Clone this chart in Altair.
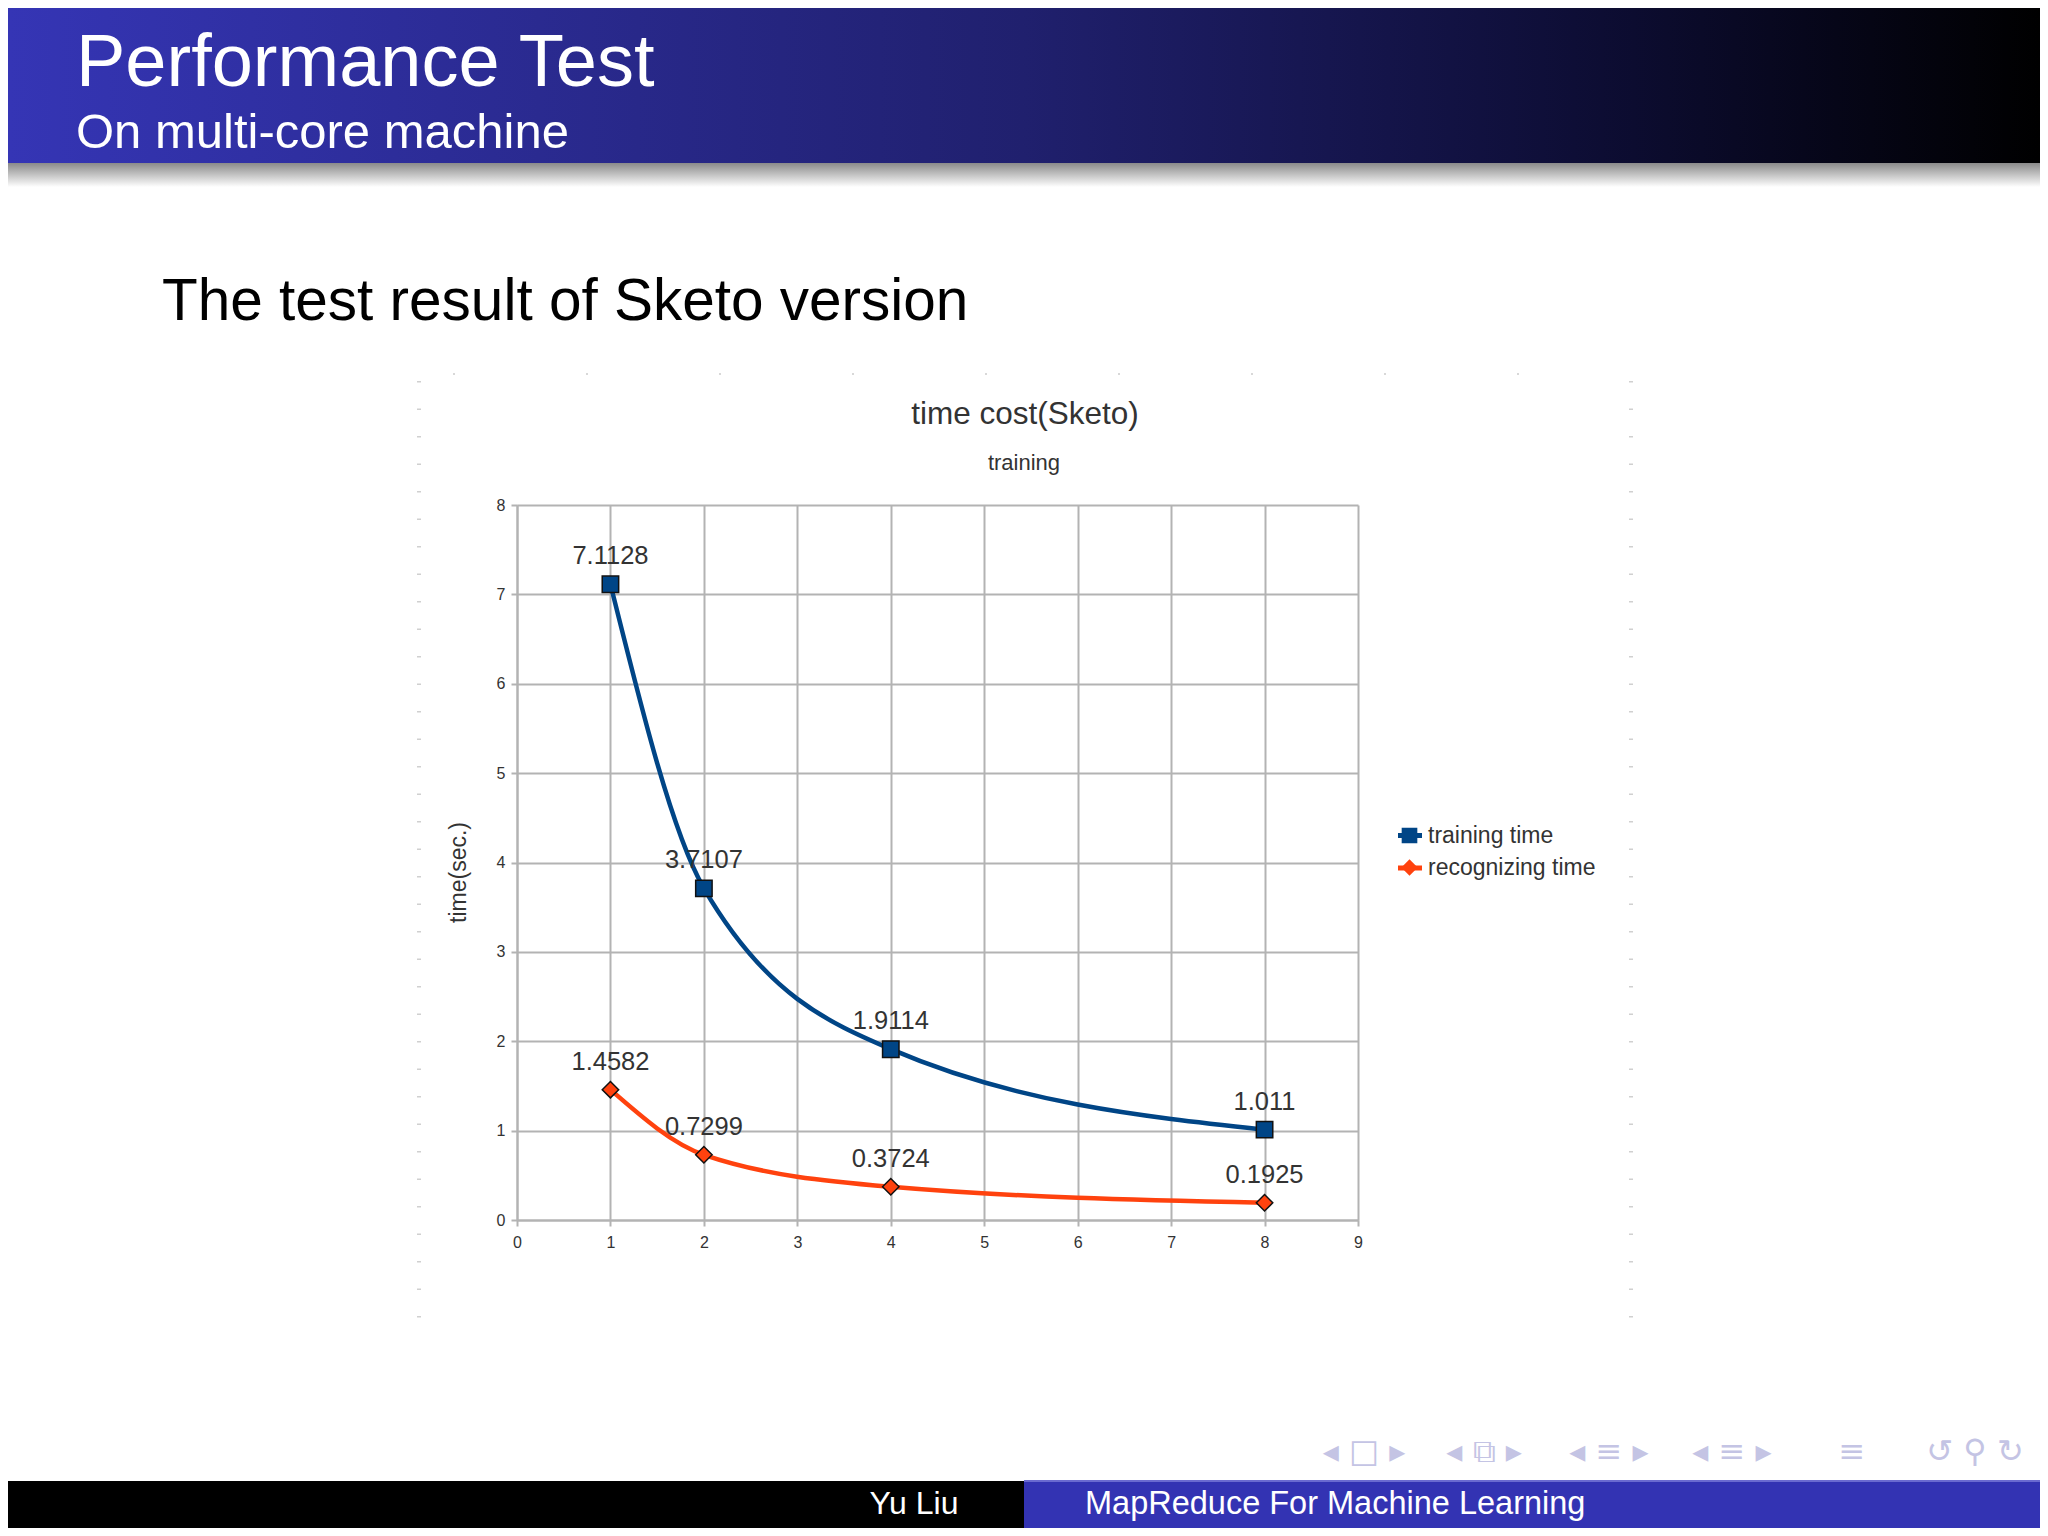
import altair as alt
import pandas as pd

# ---------------- data ----------------
cores = [1, 2, 4, 8]
training_time = [7.1128, 3.7107, 1.9114, 1.011]
recognizing_time = [1.4582, 0.7299, 0.3724, 0.1925]
series_names = ["training time", "recognizing time"]
series_colors = ["#004586", "#ff420e"]
series_shapes = ["square", "diamond"]
x_ticks = list(range(0, 10))
y_ticks = list(range(0, 9))

slide_title = "Performance Test"
slide_subtitle = "On multi-core machine"
slide_heading = "The test result of Sketo version"
chart_title = "time cost(Sketo)"
chart_subtitle = "training"
x_title = "cores"
y_title = "time(sec.)"
footer_left = "Yu Liu"
footer_right = "MapReduce For Machine Learning"
nav_glyphs = ["◂ □ ▸", "◂ ⧉ ▸", "◂ ≡ ▸", "◂ ≡ ▸", "≡", "↺ ⚲ ↻"]

# ---------------- layout ----------------
W, H = 841, 715
PAD = {"left": 509, "top": 497, "right": 682, "bottom": 308}
FC = "Liberation Sans, Arial, sans-serif"
FS = "Liberation Sans, sans-serif"
TXT = "#333333"
GRID = "#b3b3b3"

rows = []
for s, vals in zip(series_names, [training_time, recognizing_time]):
    for c, v in zip(cores, vals):
        rows.append({"cores": c, "time": v, "series": s, "label": str(v)})
df = pd.DataFrame(rows)

xenc = alt.X(
    "cores:Q",
    scale=alt.Scale(domain=[0, 9], nice=False, zero=False),
    axis=alt.Axis(values=x_ticks, title=x_title, format="d", labelFlush=False,
                  labelPadding=8, titleX=410, titleY=765),
)
yenc = alt.Y(
    "time:Q",
    scale=alt.Scale(domain=[0, 8], nice=False),
    axis=alt.Axis(values=y_ticks, title=y_title, format="d", labelFlush=False,
                  labelPadding=6, titleX=-47, titleY=367),
)
cscale = alt.Scale(domain=series_names, range=series_colors)
sscale = alt.Scale(domain=series_names, range=series_shapes)

legend = alt.Legend(
    title=None, orient="none", legendX=881, legendY=319,
    labelFont=FC, labelFontSize=23, labelColor=TXT, labelOffset=7, labelLimit=0,
    symbolSize=200, symbolStrokeColor="#1a1a1a", symbolStrokeWidth=1.5,
    rowPadding=8, padding=0,
)

base = alt.Chart(df)

lines = base.mark_line(interpolate="monotone", strokeWidth=4.5).encode(
    x=xenc, y=yenc,
    color=alt.Color("series:N", scale=cscale, legend=legend),
)

points = base.mark_point(filled=True, size=270, stroke="#111111", strokeWidth=1.5, opacity=1).encode(
    x=xenc, y=yenc,
    color=alt.Color("series:N", scale=cscale, legend=legend),
    shape=alt.Shape("series:N", scale=sscale, legend=legend),
)

labels = base.mark_text(dy=-20, baseline="alphabetic", font=FC, fontSize=25.5, color=TXT).encode(
    x=xenc, y=yenc, text="label:N"
)

one = pd.DataFrame({"k": [0]})


def deco_rect(x, x2, y, y2, color):
    return alt.Chart(one).mark_rect(color=color, strokeWidth=0).encode(
        x=alt.value(x), x2=alt.value(x2), y=alt.value(y), y2=alt.value(y2)
    )


def deco_text(text, x, y, size, color, align="left", font=FS):
    return alt.Chart(one).mark_text(
        text=text, align=align, baseline="alphabetic", font=font, fontSize=size, color=color
    ).encode(x=alt.value(x), y=alt.value(y))


header_grad = alt.Gradient(
    gradient="linear", x1=0, x2=1, y1=0, y2=0,
    stops=[
        alt.GradientStop(color="#3535b5", offset=0),
        alt.GradientStop(color="#20206e", offset=0.5),
        alt.GradientStop(color="#0c0c30", offset=0.8),
        alt.GradientStop(color="#000000", offset=1),
    ],
)
shadow_grad = alt.Gradient(
    gradient="linear", x1=0, x2=0, y1=0, y2=1,
    stops=[alt.GradientStop(color="#8a8a8a", offset=0), alt.GradientStop(color="#ffffff", offset=1)],
)

header = deco_rect(-509, 1523, -497, -342, header_grad)
shadow = deco_rect(-509, 1523, -342, -318, shadow_grad)
footer_l = deco_rect(-509, 507, 976, 1023, "#000000")
footer_r = deco_rect(507, 1523, 976, 1023, "#3333b3")
footer_line = deco_rect(507, 1523, 975, 977, "#6a6ad0")

texts = [
    deco_text(slide_title, -441, -419, 74, "white"),
    deco_text(slide_subtitle, -441, -357, 49, "white"),
    deco_text(slide_heading, -355, -185, 58.5, "black"),
    deco_text(chart_title, 508, -81, 31.5, TXT, align="center", font=FC),
    deco_text(chart_subtitle, 507, -35, 22, TXT, align="center", font=FC),
    deco_text(footer_left, 397, 1009, 32, "white", align="center"),
    deco_text(footer_right, 568, 1009, 32.5, "white"),
]
nav_x = [847, 967, 1092, 1215, 1335, 1458]
navs = [deco_text(g, nx, 957, 32, "#c4c4e4", align="center", font="DejaVu Sans") for g, nx in zip(nav_glyphs, nav_x)]

# short line segments behind the legend symbols (legend line style)
leg_lines = [
    alt.Chart(one).mark_rule(color=c, strokeWidth=5).encode(
        x=alt.value(881), x2=alt.value(905), y=alt.value(yy))
    for c, yy in zip(series_colors, [330.5, 363])
]

frame_l = alt.Chart(one).mark_rule(color="#d0d0d0", strokeWidth=4, strokeDash=[1.5, 26]).encode(
    x=alt.value(-98), y=alt.value(-124), y2=alt.value(814))
frame_r = alt.Chart(one).mark_rule(color="#d0d0d0", strokeWidth=4, strokeDash=[1.5, 26]).encode(
    x=alt.value(1114), y=alt.value(-124), y2=alt.value(814))
frame_t = alt.Chart(one).mark_rule(color="#d8d8d8", strokeWidth=2, strokeDash=[2, 131]).encode(
    x=alt.value(-64), x2=alt.value(1114), y=alt.value(-131))

chart = alt.layer(
    header, shadow, footer_l, footer_r, footer_line, frame_l, frame_r, frame_t,
    *texts, *navs, *leg_lines,
    lines, points, labels,
).properties(
    width=W, height=H, padding=PAD,
    autosize=alt.AutoSizeParams(type="none"),
    background="white",
).configure_view(stroke=None).configure_axis(
    grid=True, gridColor=GRID, gridWidth=2,
    domainColor=GRID, domainWidth=2,
    tickColor=GRID, tickSize=6, tickWidth=2,
    labelFont=FC, labelFontSize=16, labelColor=TXT,
    titleFont=FC, titleFontSize=23, titleFontWeight="normal", titleColor=TXT,
)

chart.save("out.html", embed_options={"renderer": "svg", "actions": False})
